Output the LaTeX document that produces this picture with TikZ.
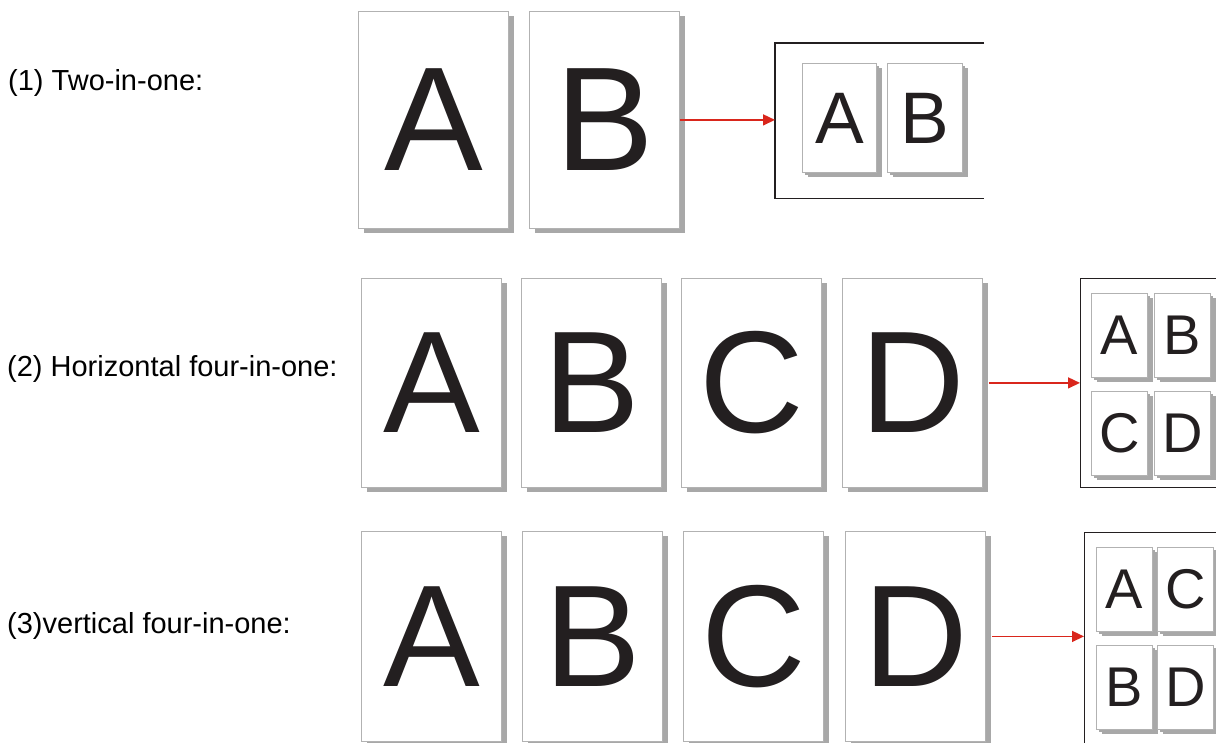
\documentclass[tikz,border=0pt]{standalone}
\usepackage{fontspec}
\setmainfont{Liberation Sans}
\usetikzlibrary{arrows.meta, shadows}

\definecolor{inkred}{HTML}{D9261C}
\definecolor{inkdark}{HTML}{231F20}

\tikzset{
  page/.style={rectangle, anchor=north west, fill=white, draw=black!30, line width=0.8pt,
    text=inkdark, inner sep=0pt,
    drop shadow={shadow xshift=6pt, shadow yshift=-5pt, fill=black!34, opacity=1}},
  bigpage/.style={page, minimum width=140, minimum height=209,
    font=\fontsize{145}{150}\selectfont},
  minipage/.style={page, minimum width=56, minimum height=84,
    drop shadow={shadow xshift=3pt, shadow yshift=-3pt, fill=black!34, opacity=1},
    font=\fontsize{56}{60}\selectfont},
  sheet/.style={rectangle, anchor=north west, inner sep=0pt, draw=inkdark, line width=1.2pt},
  tag/.style={anchor=west, inner sep=0pt, font=\fontsize{29}{34}\selectfont},
  feed/.style={draw=inkred, line width=1.5pt, -{Triangle[length=12pt, width=11pt]}}
}

\begin{document}
\begin{tikzpicture}[x=1pt, y=-1pt]
\useasboundingbox (0,0) rectangle (1216,742);
\clip (0,0) rectangle (1216,742);

% (1) two-in-one
\node[tag] (lab1) at (8,83) {(1) Two-in-one:};
\node[bigpage, minimum width=150, minimum height=217, font=\fontsize{148}{152}\selectfont] (a1) at (358,11) {A};
\node[bigpage, minimum width=150, minimum height=217, font=\fontsize{148}{152}\selectfont] (b1) at (529,11) {B};
\node[sheet, draw=none, minimum width=208, minimum height=154] (out1) at (775,43) {};
\draw[inkdark, line width=1.2pt] (out1.north east) -- (out1.north west) -- (out1.south west) -- (out1.south east);
\node[minipage, minimum width=74, minimum height=109, font=\fontsize{73}{76}\selectfont] (sa1) at (802,63) {A};
\node[minipage, minimum width=75, minimum height=109, font=\fontsize{73}{76}\selectfont] (sb1) at (887,63) {B};
\draw[feed] (b1.east) -- (b1.east -| out1.west);

% (2) horizontal four-in-one
\node[tag] (lab2) at (7,369) {(2) Horizontal four-in-one:};
\node[bigpage] (a2) at (361,278) {A};
\node[bigpage] (b2) at (521,278) {B};
\node[bigpage] (c2) at (681,278) {C};
\node[bigpage] (d2) at (842,278) {D};
\node[sheet, minimum width=200, minimum height=209] (out2) at (1080,278) {};
\node[minipage] (sa2) at (1091,293) {A};
\node[minipage] (sb2) at (1154,293) {B};
\node[minipage] (sc2) at (1091,391) {C};
\node[minipage] (sd2) at (1154,391) {D};
\draw[feed] ([xshift=6pt]d2.east) -- (d2.east -| out2.west);

% (3) vertical four-in-one
\node[tag] (lab3) at (7,626) {(3)vertical four-in-one:};
\node[bigpage, minimum height=210] (a3) at (361,531) {A};
\node[bigpage, minimum height=210] (b3) at (522,531) {B};
\node[bigpage, minimum height=210] (c3) at (683,531) {C};
\node[bigpage, minimum height=210] (d3) at (845,531) {D};
\node[sheet, minimum width=200, minimum height=260] (out3) at (1084,532) {};
\node[minipage] (sa3) at (1096,547) {A};
\node[minipage] (sc3) at (1157,547) {C};
\node[minipage] (sb3) at (1096,645) {B};
\node[minipage] (sd3) at (1157,645) {D};
\draw[feed] ([xshift=6pt]d3.east) -- (d3.east -| out3.west);
\end{tikzpicture}
\end{document}
